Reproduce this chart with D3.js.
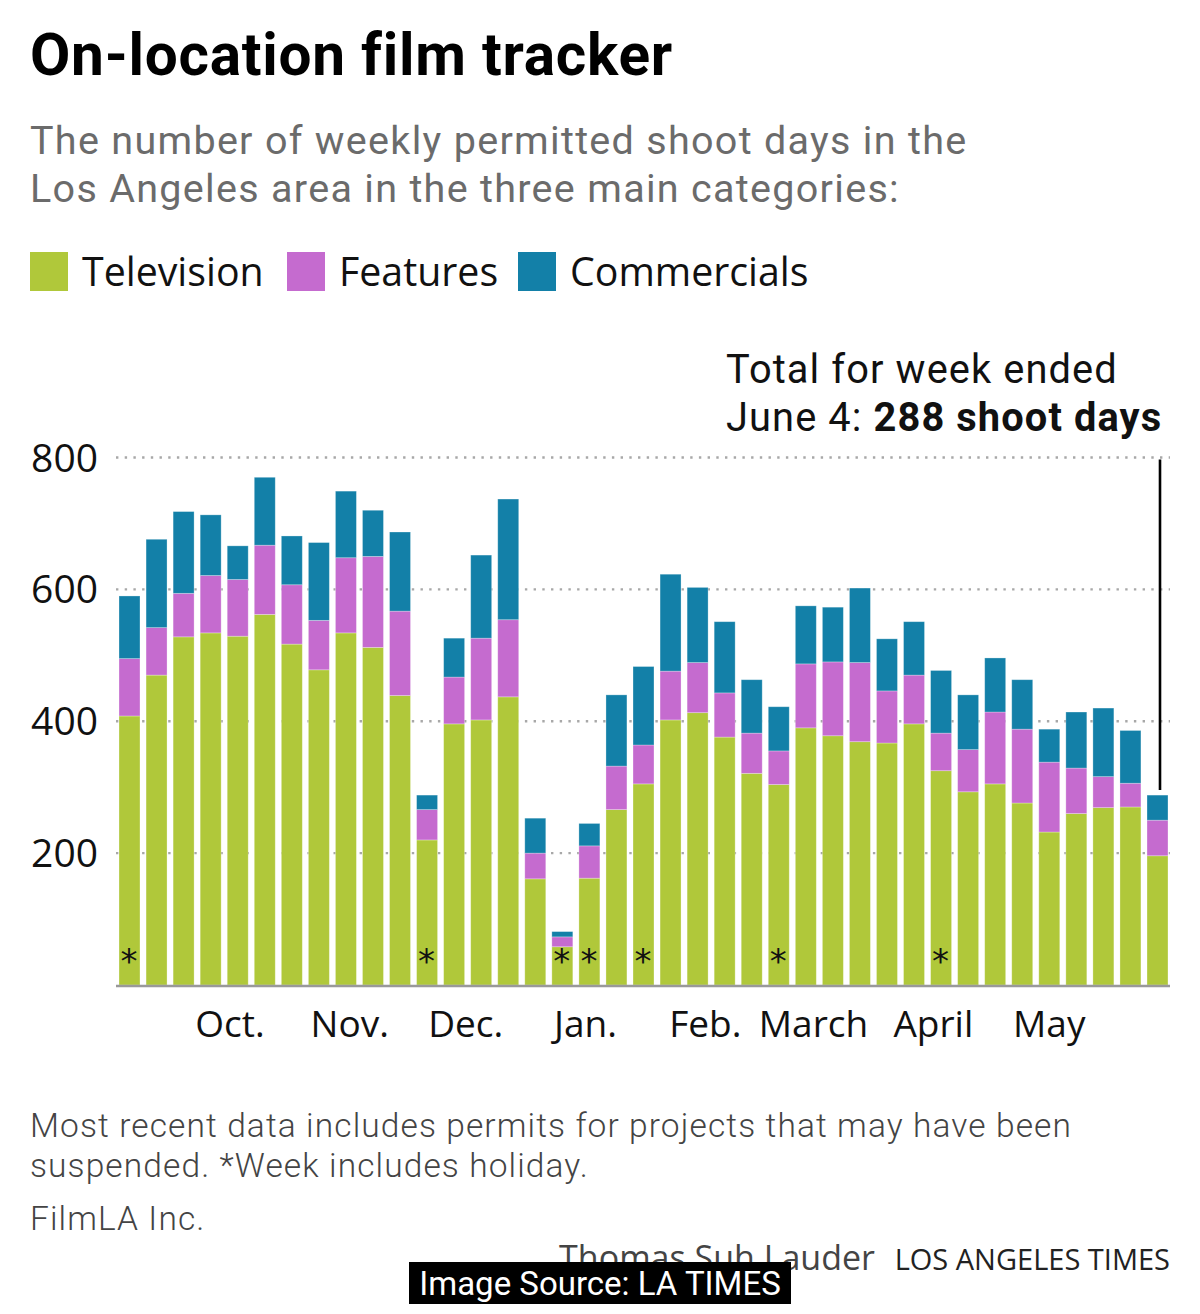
<!DOCTYPE html>
<html>
<head>
<meta charset="utf-8">
<script src="https://cdn.jsdelivr.net/npm/d3@7"></script>
<style>
  html, body { margin: 0; padding: 0; background: #fff; }
  svg { display: block; }
</style>
</head>
<body>
<div id="chart"></div>
<script>
// ---------- DATA ----------
const weekStarts = [
  "2021-09-05","2021-09-12","2021-09-19","2021-09-26","2021-10-03","2021-10-10","2021-10-17",
  "2021-10-24","2021-10-31","2021-11-07","2021-11-14","2021-11-21","2021-11-28","2021-12-05",
  "2021-12-12","2021-12-19","2021-12-26","2022-01-02","2022-01-09","2022-01-16","2022-01-23",
  "2022-01-30","2022-02-06","2022-02-13","2022-02-20","2022-02-27","2022-03-06","2022-03-13",
  "2022-03-20","2022-03-27","2022-04-03","2022-04-10","2022-04-17","2022-04-24","2022-05-01",
  "2022-05-08","2022-05-15","2022-05-22","2022-05-29"
];
const television = [408,470,528,534,529,562,517,478,534,512,439,220,396,402,437,161,58,162,266,305,
  402,413,376,321,304,390,378,369,367,396,325,293,305,276,232,260,269,270,196];
const features = [87,72,66,87,86,105,90,75,114,138,128,46,71,124,117,39,15,49,66,59,
  74,76,67,61,51,97,112,120,79,74,57,64,109,112,106,69,47,36,54];
const commercials = [95,134,124,92,51,103,74,118,101,70,120,22,59,126,183,53,8,34,108,119,
  147,114,108,81,67,88,83,113,79,81,95,83,82,75,50,85,104,80,38];
const holidayWeeks = ["2021-09-05","2021-11-21","2021-12-26","2022-01-02","2022-01-16","2022-02-20","2022-04-03"];
const monthDates = ["2021-10-01","2021-11-01","2021-12-01","2022-01-01","2022-02-01","2022-03-01","2022-04-01","2022-05-01"];
const monthLabels = ["Oct.","Nov.","Dec.","Jan.","Feb.","March","April","May"];
const yTicks = [200,400,600,800];
const seriesNames = ["Television","Features","Commercials"];
const seriesColors = ["#b0c83a","#c56bcf","#1380a8"];

// ---------- SETUP ----------
const W = 1200, H = 1314;
const parse = d3.utcParse("%Y-%m-%d");
const FONT = "'Open Sans', Roboto, sans-serif";
const ROBOTO = "Roboto, sans-serif";
const svg = d3.select("#chart").append("svg").attr("width", W).attr("height", H)
  .style("font-family", FONT);

const x = d3.scaleUtc()
  .domain([parse(weekStarts[0]), parse(weekStarts[weekStarts.length - 1])])
  .range([129.5, 1157.5]);
const y = d3.scaleLinear().domain([0, 800]).range([985, 457.5]);
const stepPx = x(parse(weekStarts[1])) - x(parse(weekStarts[0]));
const barW = stepPx * 0.775;
const plotL = 116, plotR = 1170;

// ---------- TITLE ----------
svg.append("text").attr("x", 30).attr("y", 75)
  .attr("font-family", ROBOTO)
  .attr("font-size", 58.5).attr("font-weight", 700).attr("fill", "#000")
  .attr("letter-spacing", 0.75)
  .text("On-location film tracker");
const sub = svg.append("text").attr("font-family", ROBOTO).attr("font-size", 39.5)
  .attr("letter-spacing", 1.3).attr("fill", "#6b6b6b").attr("font-weight", 400);
sub.append("tspan").attr("x", 30).attr("y", 154).text("The number of weekly permitted shoot days in the");
sub.append("tspan").attr("x", 30).attr("y", 202).text("Los Angeles area in the three main categories:");

// ---------- LEGEND ----------
const legendX = [30, 287, 518];
seriesNames.forEach((n, i) => {
  svg.append("rect").attr("x", legendX[i]).attr("y", 252).attr("width", 38).attr("height", 39)
    .attr("fill", seriesColors[i]);
  svg.append("text").attr("x", legendX[i] + 52).attr("y", 286)
    .attr("font-size", 39.3).attr("fill", "#111").text(n);
});

// ---------- GRID ----------
const grid = svg.append("g");
grid.selectAll("line").data(yTicks).join("line")
  .attr("x1", plotL).attr("x2", plotR)
  .attr("y1", d => y(d)).attr("y2", d => y(d))
  .attr("stroke", "#a8a8a8").attr("stroke-width", 2.4)
  .attr("stroke-dasharray", "2.4,6.3");
svg.append("g").selectAll("text").data(yTicks).join("text")
  .attr("x", 98).attr("y", d => y(d) + 14).attr("text-anchor", "end")
  .attr("font-size", 39).attr("fill", "#111").text(d => d);

// ---------- BARS ----------
const rows = weekStarts.map((w, i) => ({
  date: parse(w), Television: television[i], Features: features[i], Commercials: commercials[i]
}));
const stacked = d3.stack().keys(seriesNames)(rows);
svg.append("g").selectAll("g").data(stacked).join("g")
  .attr("fill", (d, i) => seriesColors[i])
  .selectAll("rect").data(d => d).join("rect")
  .attr("x", d => x(d.data.date) - barW / 2)
  .attr("width", barW)
  .attr("y", d => y(d[1]))
  .attr("height", d => y(d[0]) - y(d[1]))
  .attr("stroke", "rgba(255,255,255,0.35)").attr("stroke-width", 0.8);

// baseline
svg.append("line").attr("x1", plotL).attr("x2", plotR)
  .attr("y1", y(0) + 1).attr("y2", y(0) + 1)
  .attr("stroke", "#999").attr("stroke-width", 2.6);

// holiday asterisks
svg.append("g").selectAll("text").data(holidayWeeks).join("text")
  .attr("x", d => x(parse(d)) - 0.5).attr("y", 973)
  .attr("text-anchor", "middle").attr("font-size", 34)
  .attr("font-family", "'DejaVu Sans', sans-serif").attr("fill", "#111")
  .text("*");

// ---------- X AXIS LABELS ----------
svg.append("g").selectAll("text").data(monthDates).join("text")
  .attr("x", d => x(parse(d))).attr("y", 1037)
  .attr("text-anchor", "middle").attr("font-size", 37).attr("fill", "#111")
  .text((d, i) => monthLabels[i]);

// ---------- ANNOTATION ----------
const last = stacked[2][stacked[2].length - 1];
const annX = x(last.data.date) + 2.5;
svg.append("line").attr("x1", annX).attr("x2", annX)
  .attr("y1", y(800) + 2).attr("y2", y(last[1]) - 5)
  .attr("stroke", "#000").attr("stroke-width", 2.6);
const ann = svg.append("text").attr("font-family", ROBOTO).attr("font-size", 39.8)
  .attr("letter-spacing", 1.1).attr("fill", "#111");
ann.append("tspan").attr("x", 726).attr("y", 383).text("Total for week ended");
const t2 = ann.append("tspan").attr("x", 726).attr("y", 431);
t2.append("tspan").text("June 4: ");
t2.append("tspan").attr("font-weight", 700).text(d3.sum([television[38], features[38], commercials[38]]) + " shoot days");

// ---------- FOOTER ----------
const foot = svg.append("text").attr("font-family", ROBOTO).attr("font-size", 33.5)
  .attr("letter-spacing", 1.1).attr("fill", "#444").attr("font-weight", 300);
foot.append("tspan").attr("x", 30).attr("y", 1137).text("Most recent data includes permits for projects that may have been");
foot.append("tspan").attr("x", 30).attr("y", 1177).text("suspended. *Week includes holiday.");
svg.append("text").attr("x", 30).attr("y", 1230).attr("font-family", ROBOTO).attr("font-size", 33.5)
  .attr("letter-spacing", 1.1).attr("fill", "#444").attr("font-weight", 300).text("FilmLA Inc.");

svg.append("text").attr("x", 875).attr("y", 1270).attr("text-anchor", "end")
  .attr("font-size", 34).attr("fill", "#444").attr("font-weight", 400).text("Thomas Suh Lauder");
svg.append("text").attr("x", 1170).attr("y", 1270).attr("text-anchor", "end")
  .attr("font-size", 29).attr("fill", "#222").text("LOS ANGELES TIMES");

// source badge
svg.append("rect").attr("x", 409).attr("y", 1262).attr("width", 382).attr("height", 42).attr("fill", "#000");
svg.append("text").attr("x", 600).attr("y", 1295).attr("text-anchor", "middle")
  .attr("font-family", ROBOTO)
  .attr("font-size", 33).attr("fill", "#fff").text("Image Source: LA TIMES");
</script>
</body>
</html>
